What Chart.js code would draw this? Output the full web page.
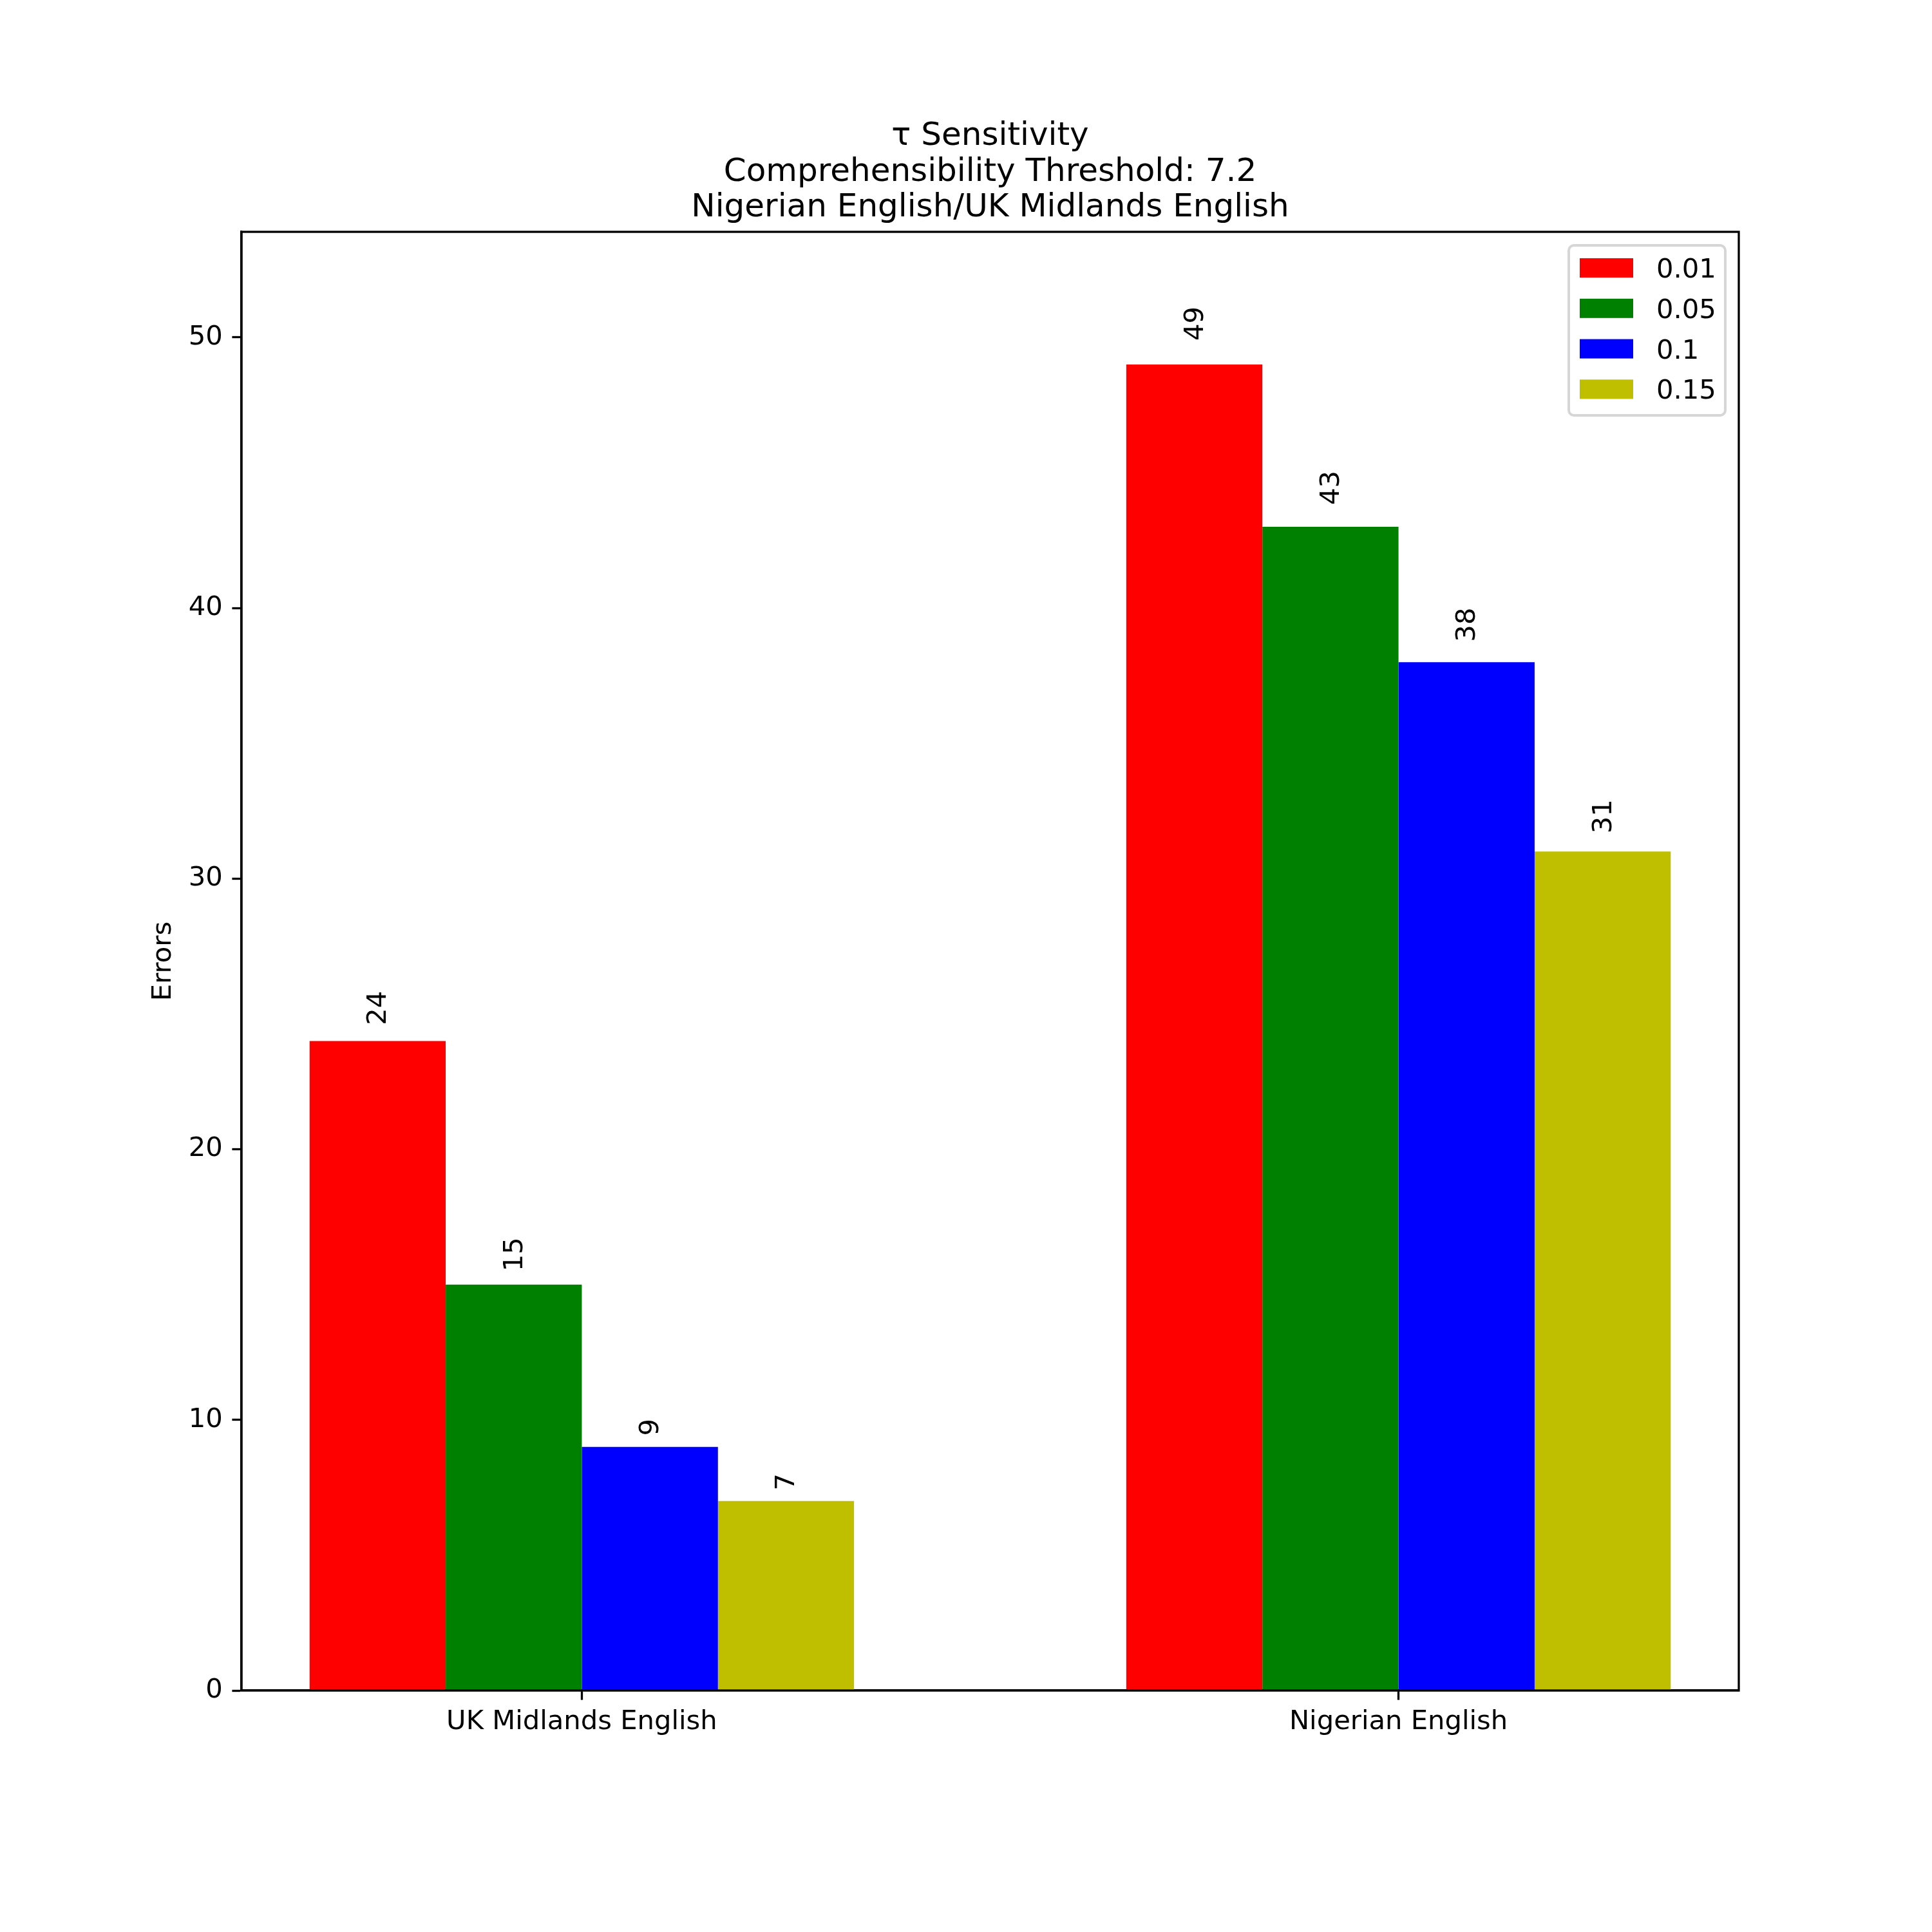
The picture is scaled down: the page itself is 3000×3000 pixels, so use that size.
<!DOCTYPE html>
<html>
<head>
<meta charset="utf-8">
<script src="https://cdn.jsdelivr.net/npm/chart.js@4.4.1/dist/chart.umd.min.js"></script>
<style>
  html, body { margin: 0; padding: 0; background: #fff; }
  #chart { display: block; width: 3000px; height: 3000px; }
</style>
</head>
<body>
<canvas id="chart" width="3000" height="3000"></canvas>
<script>
// chart data
const categories = ['UK Midlands English', 'Nigerian English'];
const tauLabels = ['0.01', '0.05', '0.1', '0.15'];
const errorsTau001 = [24, 49];
const errorsTau005 = [15, 43];
const errorsTau01 = [9, 38];
const errorsTau015 = [7, 31];
const yTicks = [0, 10, 20, 30, 40, 50];
const titleLines = ['τ Sensitivity', 'Comprehensibility Threshold: 7.2', 'Nigerian English/UK Midlands English'];
const yTitle = 'Errors';

const barColors = ['#ff0000', '#008000', '#0000ff', '#bfbf00'];
const FONT = 'DejaVu Sans';

const series = [errorsTau001, errorsTau005, errorsTau01, errorsTau015];

// matplotlib-ish title, legend, spines and value labels
const decorations = {
    id: 'decorations',
    afterDatasetsDraw(chart) {
        const ctx = chart.ctx;
        const area = chart.chartArea;
        const yScale = chart.scales.y;

        // value labels, rotated, sitting just above 1.01 * height
        ctx.save();
        ctx.fillStyle = '#000';
        ctx.font = '41.7px "' + FONT + '"';
        ctx.textAlign = 'left';
        ctx.textBaseline = 'alphabetic';
        chart.data.datasets.forEach((ds, di) => {
            chart.getDatasetMeta(di).data.forEach((bar, i) => {
                const v = ds.data[i].y;
                ctx.save();
                ctx.translate(bar.x + 13, yScale.getPixelForValue(v * 1.0116) - 13);
                ctx.rotate(-Math.PI / 2);
                ctx.fillText(String(v), 0, 0);
                ctx.restore();
            });
        });
        ctx.restore();

        // spines
        ctx.save();
        ctx.strokeStyle = '#000';
        ctx.lineWidth = 3.3;
        ctx.strokeRect(area.left, area.top, area.right - area.left, area.bottom - area.top);
        ctx.restore();

        // title
        ctx.save();
        ctx.fillStyle = '#000';
        ctx.font = '50px "' + FONT + '"';
        ctx.textAlign = 'center';
        ctx.textBaseline = 'alphabetic';
        const cx = (area.left + area.right) / 2;
        titleLines.forEach((line, i) => {
            ctx.fillText(line, cx, area.top - 135 + i * 55.7);
        });
        ctx.restore();

        // legend (upper right)
        ctx.save();
        const bx = area.right - 264, by = area.top + 21, bw = 243, bh = 264;
        ctx.beginPath();
        ctx.roundRect(bx, by, bw, bh, 8);
        ctx.fillStyle = 'rgba(255,255,255,0.8)';
        ctx.fill();
        ctx.strokeStyle = '#d6d6d6';
        ctx.lineWidth = 4;
        ctx.stroke();
        ctx.font = '41.7px "' + FONT + '"';
        ctx.textAlign = 'left';
        ctx.textBaseline = 'alphabetic';
        chart.data.datasets.forEach((ds, i) => {
            const cy = by + 35 + i * 62.8;
            ctx.fillStyle = ds.backgroundColor;
            ctx.fillRect(bx + 17, cy - 15, 83, 30);
            ctx.fillStyle = '#000';
            ctx.fillText(ds.label, bx + 136, cy + 15);
        });
        ctx.restore();
    }
};

const ctx = document.getElementById('chart').getContext('2d');
new Chart(ctx, {
    type: 'bar',
    data: {
        datasets: series.map((vals, i) => ({
            label: tauLabels[i],
            data: vals.map((v, j) => ({ x: j, y: v })),
            backgroundColor: barColors[i],
            borderWidth: 0
        }))
    },
    options: {
        responsive: false,
        devicePixelRatio: 1,
        animation: false,
        layout: { padding: { left: 0, top: 360, right: 300, bottom: 0 } },
        datasets: { bar: { categoryPercentage: 2 / 3, barPercentage: 1 } },
        plugins: { legend: { display: false }, tooltip: { enabled: false } },
        scales: {
            x: {
                type: 'linear',
                bounds: 'data',
                offset: false,
                min: -0.4167,
                max: 1.4167,
                afterBuildTicks: axis => { axis.ticks = categories.map((c, i) => ({ value: i })); },
                afterFit: axis => { axis.height = 375; },
                grid: { display: true, offset: false, drawOnChartArea: false, drawTicks: true, tickLength: 14.6, tickWidth: 3.3, tickColor: '#000' },
                border: { display: true, color: '#000', width: 3.3 },
                ticks: {
                    autoSkip: false,
                    maxRotation: 0,
                    padding: 10,
                    color: '#000',
                    font: { family: FONT, size: 41.7 },
                    callback: v => categories[v]
                }
            },
            y: {
                type: 'linear',
                bounds: 'data',
                min: 0,
                max: 53.9,
                afterBuildTicks: axis => { axis.ticks = yTicks.map(v => ({ value: v })); },
                afterFit: axis => { axis.width = 375; },
                grid: { display: true, drawOnChartArea: false, drawTicks: true, tickLength: 14.6, tickWidth: 3.3, tickColor: '#000' },
                border: { display: true, color: '#000', width: 3.3 },
                ticks: {
                    padding: 14.6,
                    color: '#000',
                    font: { family: FONT, size: 41.7 }
                },
                title: {
                    display: true,
                    text: yTitle,
                    color: '#000',
                    font: { family: FONT, size: 41.7, lineHeight: 1.2 },
                    padding: { top: 229, bottom: 0 }
                }
            }
        }
    },
    plugins: [decorations]
});
</script>
</body>
</html>
